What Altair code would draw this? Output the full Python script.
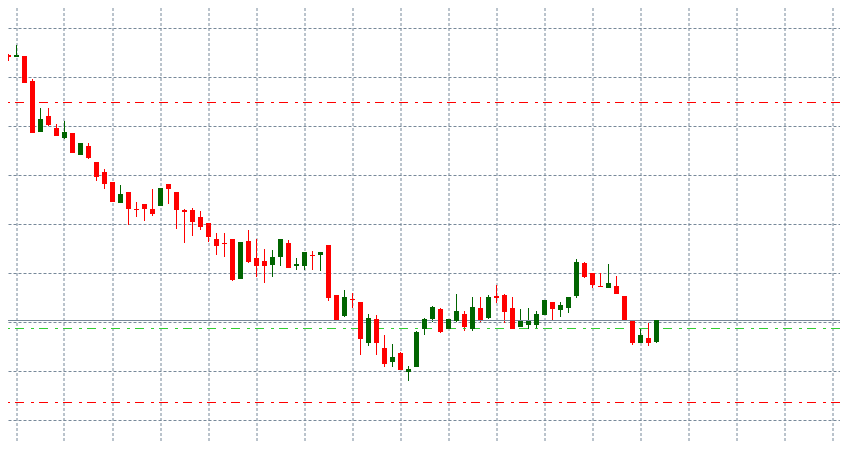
import altair as alt
import pandas as pd

# candle prices, oldest bar first
opens = [1.2400, 1.2396, 1.2394, 1.2395, 1.2370, 1.2319, 1.2335, 1.2323, 1.2313, 1.2318,
         1.2296, 1.2305, 1.2289, 1.2279, 1.2269, 1.2248, 1.2259, 1.2242, 1.2247, 1.2242,
         1.2245, 1.2267, 1.2259, 1.2241, 1.2241, 1.2234, 1.2228, 1.2212, 1.2208, 1.2212,
         1.2172, 1.2210, 1.2193, 1.2190, 1.2186, 1.2194, 1.2208, 1.2185, 1.2185, 1.2196,
         1.2196, 1.2206, 1.2156, 1.2135, 1.2152, 1.2149, 1.2108, 1.2132, 1.2103, 1.2089,
         1.2098, 1.2079, 1.2084, 1.2122, 1.2132, 1.2142, 1.2122, 1.2130, 1.2137, 1.2122,
         1.2143, 1.2133, 1.2155, 1.2156, 1.2143, 1.2124, 1.2126, 1.2126, 1.2136, 1.2149,
         1.2141, 1.2143, 1.2155, 1.2188, 1.2178, 1.2165, 1.2163, 1.2165, 1.2155, 1.2130,
         1.2108, 1.2113, 1.2109]
highs = [1.2405, 1.2397, 1.2406, 1.2395, 1.2372, 1.2343, 1.2343, 1.2327, 1.2330, 1.2318,
         1.2308, 1.2308, 1.2289, 1.2282, 1.2269, 1.2266, 1.2259, 1.2249, 1.2247, 1.2262,
         1.2263, 1.2267, 1.2259, 1.2242, 1.2243, 1.2240, 1.2228, 1.2218, 1.2218, 1.2212,
         1.2209, 1.2221, 1.2212, 1.2202, 1.2201, 1.2212, 1.2211, 1.2193, 1.2199, 1.2200,
         1.2199, 1.2206, 1.2156, 1.2161, 1.2158, 1.2149, 1.2137, 1.2136, 1.2116, 1.2107,
         1.2099, 1.2085, 1.2120, 1.2133, 1.2145, 1.2143, 1.2132, 1.2157, 1.2140, 1.2154,
         1.2154, 1.2156, 1.2166, 1.2157, 1.2154, 1.2142, 1.2143, 1.2140, 1.2151, 1.2149,
         1.2149, 1.2154, 1.2192, 1.2189, 1.2178, 1.2178, 1.2187, 1.2175, 1.2155, 1.2130,
         1.2123, 1.2128, 1.2131]
lows = [1.2394, 1.2390, 1.2394, 1.2368, 1.2318, 1.2319, 1.2325, 1.2315, 1.2312, 1.2298,
        1.2296, 1.2292, 1.2270, 1.2262, 1.2249, 1.2248, 1.2226, 1.2234, 1.2230, 1.2235,
        1.2245, 1.2247, 1.2222, 1.2208, 1.2215, 1.2221, 1.2209, 1.2196, 1.2194, 1.2170,
        1.2172, 1.2188, 1.2174, 1.2168, 1.2174, 1.2185, 1.2183, 1.2181, 1.2181, 1.2181,
        1.2180, 1.2150, 1.2131, 1.2134, 1.2143, 1.2096, 1.2105, 1.2096, 1.2084, 1.2084,
        1.2081, 1.2070, 1.2084, 1.2116, 1.2129, 1.2118, 1.2122, 1.2129, 1.2120, 1.2120,
        1.2129, 1.2132, 1.2148, 1.2128, 1.2122, 1.2124, 1.2122, 1.2122, 1.2136, 1.2131,
        1.2134, 1.2138, 1.2153, 1.2173, 1.2163, 1.2164, 1.2163, 1.2157, 1.2131, 1.2106,
        1.2108, 1.2105, 1.2108]
closes = [1.2399, 1.2394, 1.2396, 1.2368, 1.2318, 1.2332, 1.2326, 1.2315, 1.2319, 1.2298,
          1.2308, 1.2293, 1.2274, 1.2267, 1.2249, 1.2257, 1.2242, 1.2241, 1.2242, 1.2237,
          1.2263, 1.2262, 1.2241, 1.2239, 1.2229, 1.2224, 1.2214, 1.2205, 1.2207, 1.2171,
          1.2209, 1.2189, 1.2185, 1.2185, 1.2194, 1.2212, 1.2183, 1.2187, 1.2199, 1.2195,
          1.2199, 1.2153, 1.2131, 1.2154, 1.2151, 1.2112, 1.2133, 1.2108, 1.2087, 1.2094,
          1.2081, 1.2082, 1.2119, 1.2132, 1.2144, 1.2119, 1.2132, 1.2140, 1.2124, 1.2144,
          1.2131, 1.2154, 1.2153, 1.2139, 1.2122, 1.2130, 1.2130, 1.2137, 1.2151, 1.2142,
          1.2146, 1.2154, 1.2189, 1.2174, 1.2166, 1.2164, 1.2168, 1.2157, 1.2131, 1.2108,
          1.2116, 1.2108, 1.2131]

# horizontal lines
stop_levels = [1.2349, 1.2049]   # red dash-dot
order_levels = [1.2123]          # green dash-dot
bid_levels = [1.2131]            # gray solid
grid_prices = [1.2423, 1.2374, 1.2325, 1.2276, 1.2227, 1.2178, 1.2129, 1.2080, 1.2031]

GRID = "#778899"
UP = "#006400"
DOWN = "#FF0000"

# padding=0: bars on a continuous x otherwise pull the range in by a bar width
x_scale = alt.Scale(domain=[0.9375, 104.9375], nice=False, zero=False, padding=0)
y_scale = alt.Scale(domain=[1.2008, 1.2443], nice=False, zero=False, padding=0)

grid_axis = dict(grid=True, gridColor=GRID, gridDash=[3, 2], gridOpacity=1, gridWidth=1,
                 labels=False, ticks=False, domain=False, title=None)
x_axis = alt.Axis(values=list(range(2, 105, 6)), translate=0, **grid_axis)
y_axis = alt.Axis(values=grid_prices, **grid_axis)


def _frame():
    df = pd.DataFrame({"open": opens, "high": highs, "low": lows, "close": closes})
    df["bar"] = range(len(df))
    df["dir"] = ["up" if c >= o else "down" for o, c in zip(opens, closes)]
    return df


def _level(values, color, dash=None):
    mark = dict(color=color, strokeWidth=1, yOffset=0.5, clip=True)
    if dash:
        mark["strokeDash"] = dash
    return alt.Chart(pd.DataFrame({"price": values})).mark_rule(**mark).encode(
        y=alt.Y("price:Q", scale=y_scale, axis=y_axis)
    )


def _plot(df):
    color = alt.Color("dir:N", scale=alt.Scale(domain=["up", "down"], range=[UP, DOWN]), legend=None)
    base = alt.Chart(df)
    wicks = base.mark_rule(strokeWidth=1, clip=True).encode(
        x=alt.X("bar:Q", scale=x_scale, axis=x_axis),
        y=alt.Y("high:Q", scale=y_scale, axis=y_axis),
        y2="low:Q",
        color=color,
    )
    bodies = base.mark_bar(size=5, clip=True).encode(
        x=alt.X("bar:Q", scale=x_scale, axis=x_axis),
        y=alt.Y("open:Q", scale=y_scale, axis=y_axis),
        y2="close:Q",
        color=color,
    )
    levels = (_level(stop_levels, DOWN, [9, 5, 3, 7])
              + _level(order_levels, "#32CD32", [9, 5, 3, 7])
              + _level(bid_levels, GRID))
    return alt.layer(wicks, levels, bodies).properties(
        width=832, height=435, padding=0, autosize=alt.AutoSizeParams(type="none"),
        background="white",
    ).configure_view(stroke=None)


chart = _plot(_frame())
chart.save("out.html", embed_options={"renderer": "svg", "actions": False})
